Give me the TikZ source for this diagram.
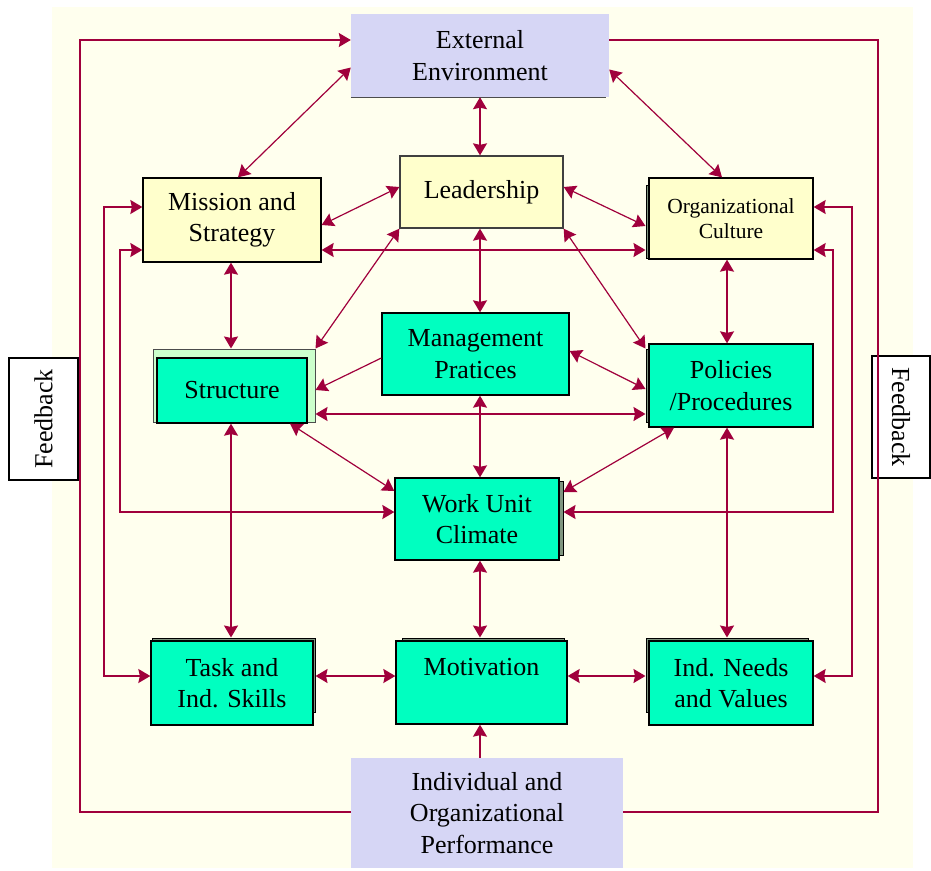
\documentclass[tikz,border=0pt]{standalone}
\usepackage{fontspec}
\setmainfont{Liberation Serif}
\usetikzlibrary{arrows.meta}
\definecolor{bg}{RGB}{255,255,238}
\definecolor{lav}{RGB}{214,214,245}
\definecolor{lyel}{RGB}{255,255,204}
\definecolor{mint}{RGB}{0,255,192}
\definecolor{lgreen}{RGB}{204,255,204}
\definecolor{shd}{RGB}{128,150,128}
\definecolor{wine}{RGB}{160,0,60}
\begin{document}
\begin{tikzpicture}[x=1pt,y=-1pt,
  box/.style={draw=black, line width=1.3pt, inner sep=0pt, align=center, font=\fontsize{26}{31.5}\selectfont},
  ybox/.style={box, fill=lyel},
  gbox/.style={box, fill=mint},
  lbox/.style={inner sep=0pt, align=center, fill=lav, font=\fontsize{26}{31.5}\selectfont},
  sbox/.style={draw=black, line width=1pt, fill=shd, inner sep=0pt},
  fbox/.style={draw=black, line width=1.2pt, fill=white, inner sep=0pt, font=\fontsize{26}{31}\selectfont},
  conn/.style={draw=wine, line width=1.5pt, >={Stealth[length=12pt,width=14pt,inset=1.5pt]}},
  diag/.style={conn, line width=1.2pt}]
\useasboundingbox (0,0) rectangle (931,870);
\fill[bg] (52,7) rectangle (913,868);

% shadow boxes
\node[draw=black!70, line width=1pt, fill=lgreen, inner sep=0pt, minimum width=162pt, minimum height=73pt] (strS) at (234,385.5) {};
\node[sbox, minimum width=159pt, minimum height=73pt] (culS) at (725.5,221.5) {};
\node[sbox, minimum width=159pt, minimum height=73pt] (polS) at (725.5,385.5) {};
\node[sbox, minimum width=163pt, minimum height=74pt] (wucS) at (481.5,518) {};
\node[sbox, minimum width=163pt, minimum height=74pt] (taskS) at (233.5,675) {};
\node[sbox, minimum width=162pt, minimum height=74pt] (motS) at (483,675) {};
\node[sbox, minimum width=162pt, minimum height=74pt] (needS) at (727,675) {};

% main boxes
\node[lbox, minimum width=258pt, minimum height=83pt] (ext) at (480,55.5) {External\\Environment};
\draw[black!70, line width=1pt] (ext.south west) -- ([xshift=-3pt]ext.south east);
\node[ybox, draw=black!75, minimum width=163pt, minimum height=72pt] (lead) at (481.5,192) {Leadership};
\node[ybox, minimum width=178pt, minimum height=84pt] (mis) at (232,220) {Mission and\\Strategy};
\node[ybox, minimum width=164pt, minimum height=81pt, font=\fontsize{21.5}{25}\selectfont] (cul) at (731,218.5) {Organizational\\Culture};
\node[gbox, minimum width=150pt, minimum height=65pt] (str) at (232,390.5) {Structure};
\node[gbox, minimum width=187pt, minimum height=82pt] (man) at (475.5,354) {Management\\Pratices};
\node[gbox, minimum width=164pt, minimum height=83pt] (pol) at (731,385.5) {Policies\\/Procedures};
\node[gbox, minimum width=164pt, minimum height=82pt] (wuc) at (477,519) {Work Unit\\Climate};
\node[gbox, minimum width=162pt, minimum height=84pt] (task) at (232,683) {Task and\\Ind. Skills};
\node[gbox, minimum width=171pt, minimum height=83pt] (mot) at (481.5,682.5) {Motivation\\\mbox{}};
\node[gbox, minimum width=164pt, minimum height=84pt] (need) at (731,683) {Ind. Needs\\and Values};
\node[lbox, minimum width=272pt, minimum height=110pt] (perf) at (487,813) {Individual and\\Organizational\\Performance};
\node[fbox, minimum width=69pt, minimum height=122pt] (fbl) at (43.5,419) {};
\node[rotate=90, font=\fontsize{26}{31}\selectfont] (fbltxt) at (fbl.center) {Feedback};
\node[fbox, minimum width=58pt, minimum height=122pt] (fbr) at (901,417) {};
\node[rotate=-90, font=\fontsize{26}{31}\selectfont] (fbrtxt) at (fbr.center) {Feedback};

% helper coordinates
\coordinate (cTL) at (80,40); \coordinate (cBL) at (80,812);
\coordinate (cTR) at (878,40); \coordinate (cBR) at (878,812);
\coordinate (l2a) at (104,207); \coordinate (l2b) at (104,676);
\coordinate (l3a) at (120,250); \coordinate (l3b) at (120,512);
\coordinate (r3a) at (833,250); \coordinate (r3b) at (833,512);
\coordinate (r2a) at (852,207); \coordinate (r2b) at (852,676);
\coordinate (h414) at (480,414); \coordinate (h676) at (480,676);
\coordinate (vL) at (231,0); \coordinate (vM) at (480,0); \coordinate (vR) at (727,0);

% outer loops
\draw[conn,->] (perf.west |- cBL) -- (cBL) -- (cTL) -- (ext.west |- cTL);
\draw[conn] (perf.east |- cBR) -- (cBR) -- (cTR) -- (ext.east |- cTR);
\draw[conn,<->] (mis.west |- l2a) -- (l2a) -- (l2b) -- (task.west |- l2b);
\draw[conn,<->] (mis.west |- l3a) -- (l3a) -- (l3b) -- (wuc.west |- l3b);
\draw[conn,<->] (cul.east |- r3a) -- (r3a) -- (r3b) -- (wucS.east |- r3b);
\draw[conn,<->] (cul.east |- r2a) -- (r2a) -- (r2b) -- (need.east |- r2b);
\draw[conn,<->] (mis.east |- l3a) -- (culS.west |- l3a);
\draw[conn,<->] (strS.east |- h414) -- (polS.west |- h414);

% verticals
\draw[conn,<->] (ext.south -| vM) -- (lead.north -| vM);
\draw[conn,<->] (lead.south -| vM) -- (man.north -| vM);
\draw[conn,<->] (man.south -| vM) -- (wuc.north -| vM);
\draw[conn,<->] (wuc.south -| vM) -- (motS.north -| vM);
\draw[conn,->] (perf.north -| vM) -- (mot.south -| vM);
\draw[conn,<->] (mis.south -| vL) -- (strS.north -| vL);
\draw[conn,<->] (str.south -| vL) -- (taskS.north -| vL);
\draw[conn,<->] (cul.south -| vR) -- (pol.north -| vR);
\draw[conn,<->] (pol.south -| vR) -- (needS.north -| vR);
\draw[conn,<->] (taskS.east |- h676) -- (mot.west |- h676);
\draw[conn,<->] (mot.east |- h676) -- (needS.west |- h676);

% diagonals
\draw[diag,<->] ([xshift=6pt]mis.north) -- ([yshift=-12pt]ext.west);
\draw[diag,<->] ([xshift=-9pt]cul.north) -- ([yshift=-14pt]ext.east);
\draw[diag,<->] ([yshift=-5pt]mis.east) -- ([yshift=5pt]lead.west);
\draw[diag,<->] ([yshift=5pt]lead.east) -- ([yshift=-4.5pt]culS.west);
\draw[diag,<->] (lead.south west) -- (strS.north east);
\draw[diag,<->] (lead.south east) -- (polS.north west);
\draw[diag,->] ([yshift=-4pt]man.west) -- ([yshift=-4.5pt]strS.east);
\draw[diag,<->] ([yshift=3pt]man.east) -- ([yshift=-3.5pt]polS.west);
\draw[diag,<->] ([xshift=58pt]str.south) -- ([yshift=28pt]wuc.west);
\draw[diag,<->] ([xshift=-57pt]pol.south) -- ([yshift=26pt]wucS.east);
\end{tikzpicture}
\end{document}
